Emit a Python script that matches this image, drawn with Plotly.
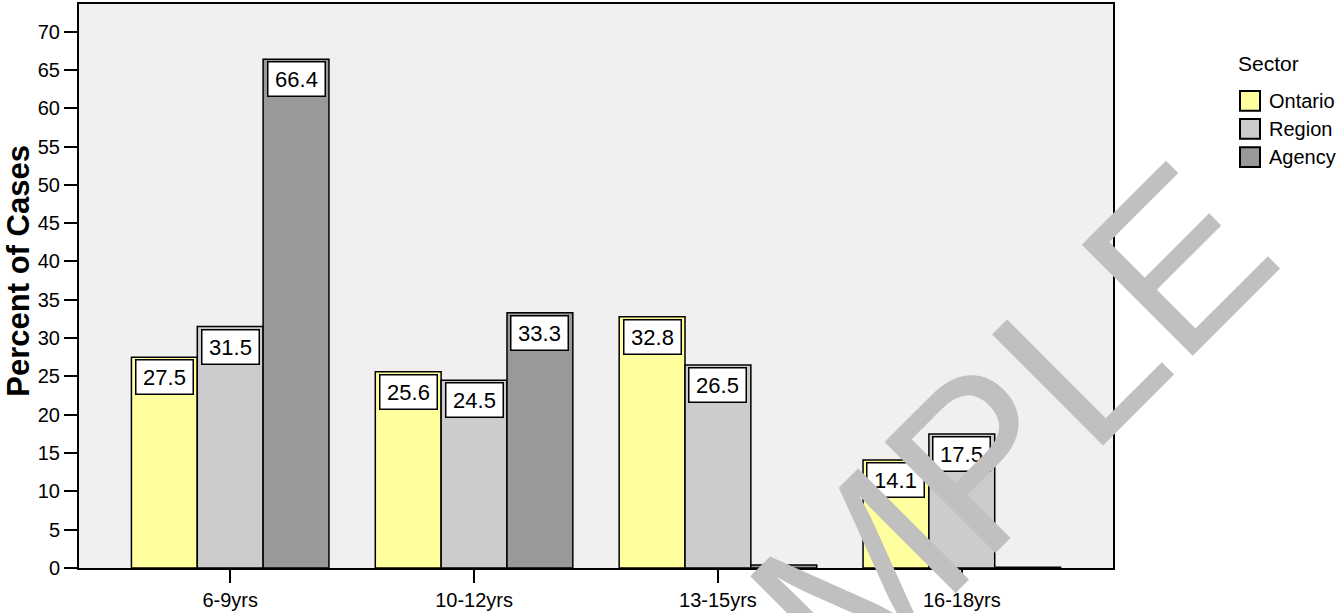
import plotly.graph_objects as go

categories = ["6-9yrs", "10-12yrs", "13-15yrs", "16-18yrs"]
series_names = ["Ontario", "Region", "Agency"]
ontario = [27.5, 25.6, 32.8, 14.1]
region = [31.5, 24.5, 26.5, 17.5]
agency = [66.4, 33.3, 0.4, 0.1]
labels_shown = [[True, True, True, True], [True, True, True, True], [True, True, False, False]]
colors = ["#ffff9e", "#cccccc", "#999999"]
y_ticks = list(range(0, 75, 5))
y_title = "Percent of Cases"
legend_title = "Sector"

FONT = "Liberation Sans, Arial, sans-serif"
W, H = 1343, 613
L, R, T, B = 79, 230, 2, 40
plot_w = W - L - R
plot_h = H - T - B
x_pad = 0.62
bargap = 0.19
cat_px = plot_w / (len(categories) - 1 + 2 * x_pad)
bar_px = cat_px * (1 - bargap) / 3

fig = go.Figure()
all_vals = [ontario, region, agency]
for name, vals, col in zip(series_names, all_vals, colors):
    fig.add_trace(go.Bar(
        x=categories, y=vals, name=name,
        marker=dict(color=col, line=dict(color="black", width=1.5)),
        showlegend=False,
    ))

annotations = []
for i, vals in enumerate(all_vals):
    for j, v in enumerate(vals):
        if not labels_shown[i][j]:
            continue
        annotations.append(dict(
            x=categories[j], y=v, xref="x", yref="y",
            text=f"{v:.1f}", showarrow=False,
            xshift=(i - 1) * bar_px, yshift=-2,
            yanchor="top", xanchor="center",
            font=dict(family=FONT, size=22, color="black"),
            bgcolor="white", bordercolor="black", borderwidth=1.5,
            width=54, height=31, borderpad=1,
        ))

def px_x(xpix):
    return (xpix - L) / plot_w

def py(ypix):
    return (H - B - ypix) / plot_h

# y-axis title
annotations.append(dict(
    x=px_x(19), y=py(272), xref="paper", yref="paper",
    text=f"<b>{y_title}</b>", showarrow=False, textangle=-90,
    xanchor="center", yanchor="middle",
    font=dict(family=FONT, size=31, color="black"),
))

# manual legend
annotations.append(dict(
    x=px_x(1268), y=py(62), xref="paper", yref="paper",
    text=legend_title, showarrow=False, xanchor="center", yanchor="middle",
    font=dict(family=FONT, size=21, color="black"),
))
shapes = []
for k, (name, col) in enumerate(zip(series_names, colors)):
    yc = 100 + k * 28.5
    shapes.append(dict(
        type="rect", xref="paper", yref="paper",
        x0=px_x(1240), x1=px_x(1260), y0=py(yc + 10), y1=py(yc - 10),
        fillcolor=col, line=dict(color="black", width=2),
    ))
    annotations.append(dict(
        x=px_x(1267), y=py(yc), xref="paper", yref="paper",
        text=name, showarrow=False, xanchor="left", yanchor="middle",
        font=dict(family=FONT, size=20, color="black"),
    ))

# watermark
annotations.append(dict(
    x=px_x(904), y=py(538), xref="paper", yref="paper",
    text="SAMPLE", showarrow=False, textangle=-45,
    xanchor="center", yanchor="middle",
    font=dict(family=FONT, size=228, color="#c0c0c0"),
))

fig.update_layout(
    width=W, height=H,
    margin=dict(l=L, r=R, t=T, b=B),
    paper_bgcolor="white", plot_bgcolor="#f0f0f0",
    barmode="group", bargap=bargap, bargroupgap=0,
    font=dict(family=FONT, color="black"),
    annotations=annotations, shapes=shapes,
    xaxis=dict(
        range=[-x_pad, len(categories) - 1 + x_pad],
        showline=True, linecolor="black", linewidth=2, mirror=True,
        ticks="outside", ticklen=13, tickwidth=2, tickcolor="black",
        tickfont=dict(family=FONT, size=20), showgrid=False,
    ),
    yaxis=dict(
        range=[0, 73.6], tickvals=y_ticks,
        showline=True, linecolor="black", linewidth=2, mirror=True,
        ticks="outside", ticklen=13, tickwidth=2, tickcolor="black",
        tickfont=dict(family=FONT, size=20), showgrid=False, zeroline=False,
    ),
)

fig.write_html("out.html", config={"displayModeBar": False},
               post_script="document.body.style.margin='0';")
